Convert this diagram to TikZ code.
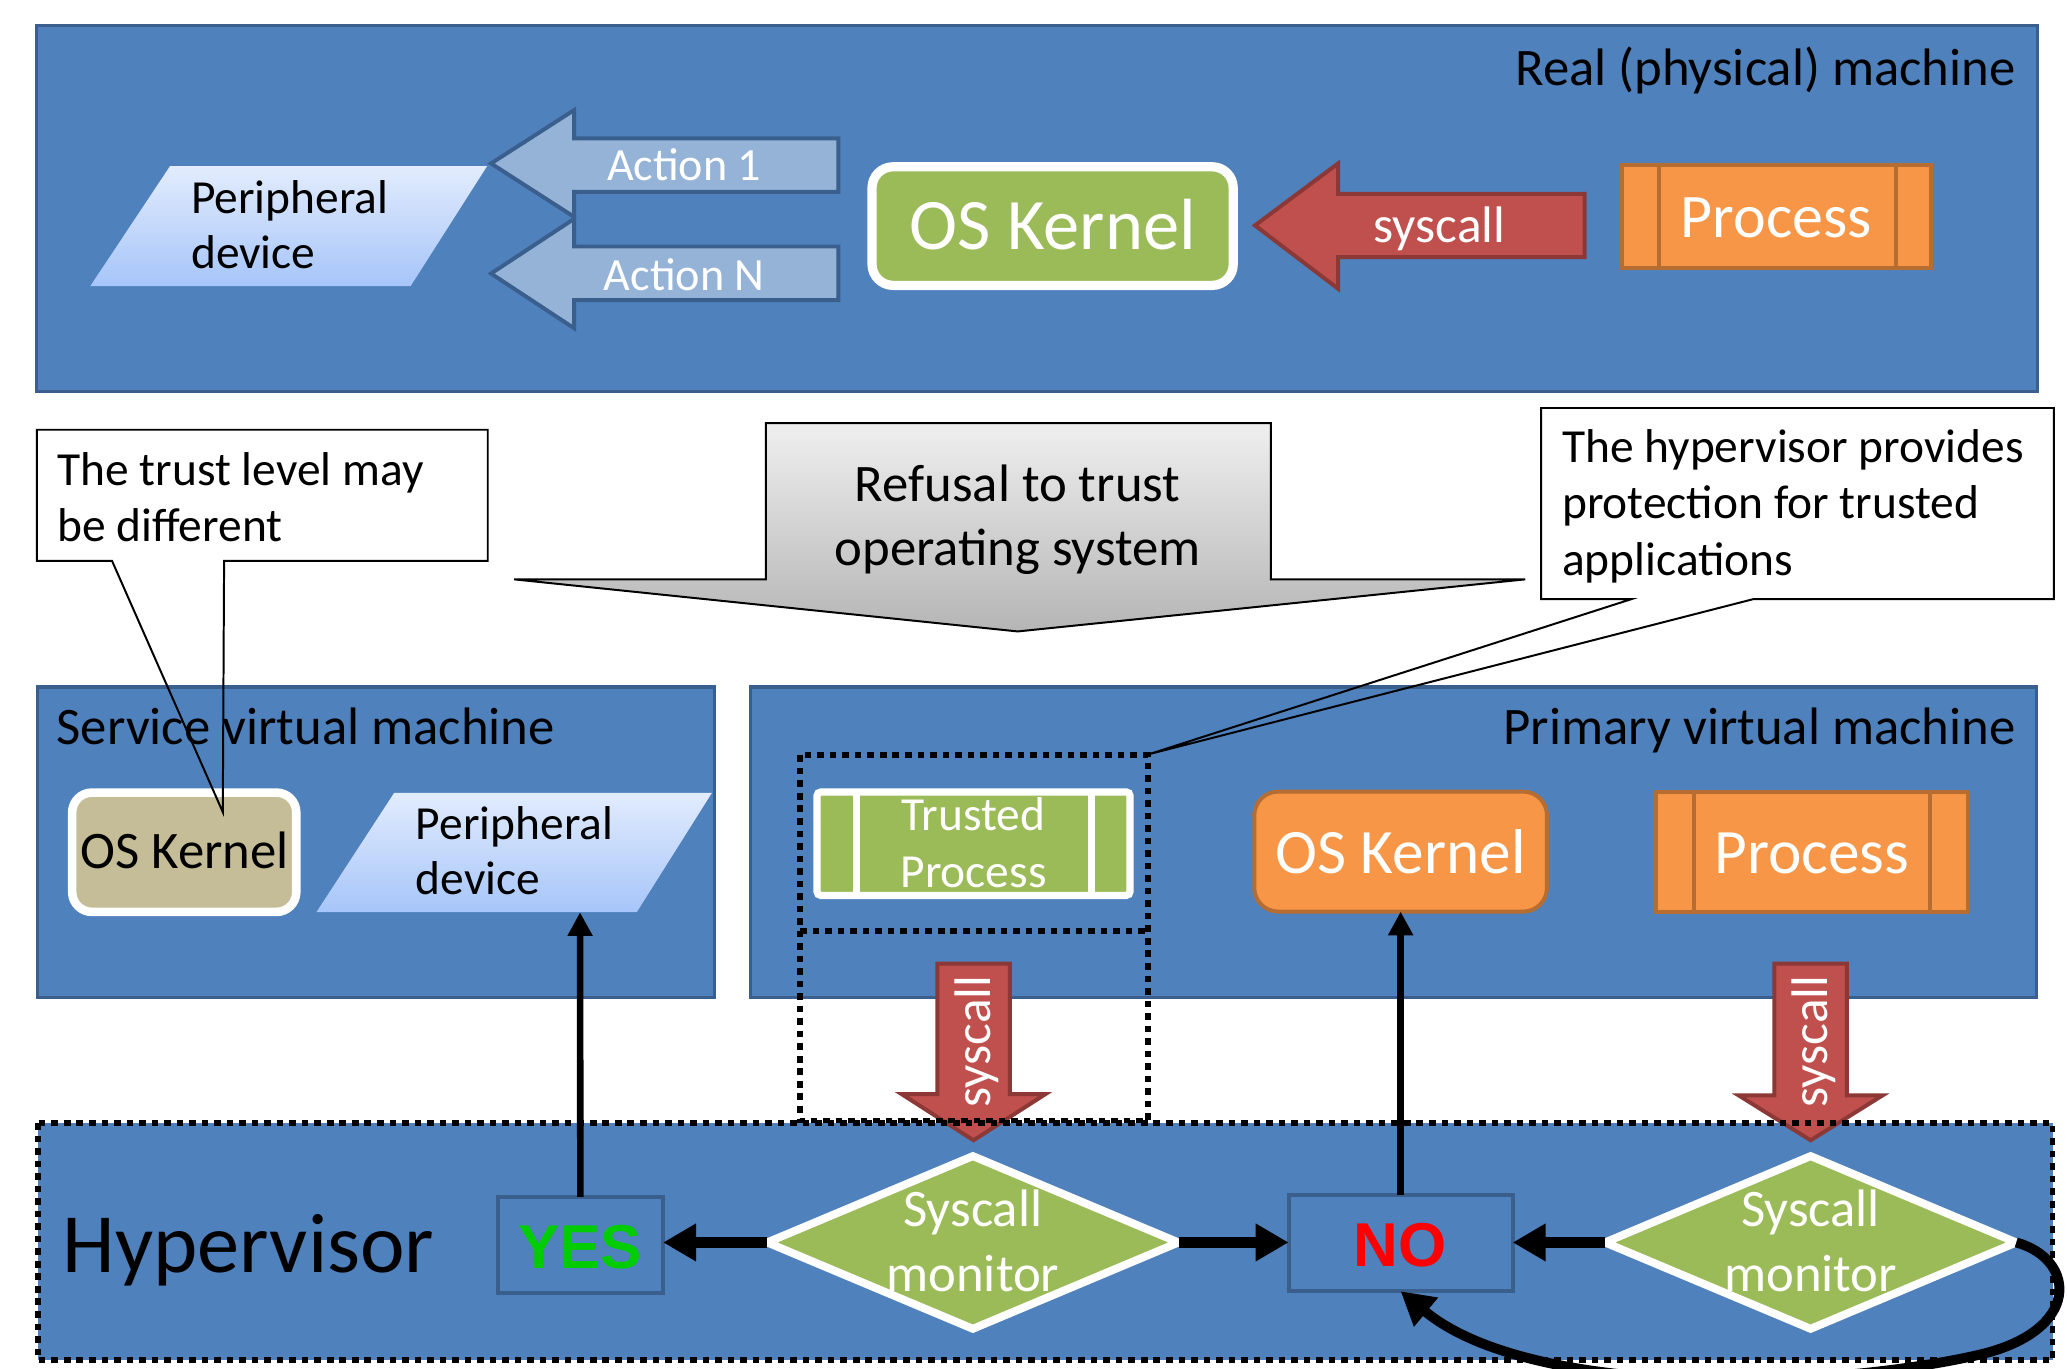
\documentclass[tikz,border=0pt]{standalone}
\usepackage{fontspec}
\setmainfont{Carlito}
\newfontfamily\lsans{Liberation Sans}
\usetikzlibrary{shapes.geometric,arrows.meta}
\definecolor{vmblue}{HTML}{4F81BD}
\definecolor{vmborder}{HTML}{3A5F8C}
\definecolor{actfill}{HTML}{95B3D7}
\definecolor{kgreen}{HTML}{9BBB59}
\definecolor{sred}{HTML}{C0504D}
\definecolor{sredb}{HTML}{8C3836}
\definecolor{porange}{HTML}{F79646}
\definecolor{porangeb}{HTML}{B66D31}
\definecolor{khaki}{HTML}{C4BD97}
\definecolor{pertop}{HTML}{E2ECFD}
\definecolor{perbot}{HTML}{A6C5F9}
\definecolor{refl}{HTML}{EFEFEF}
\definecolor{refd}{HTML}{B5B5B5}
\definecolor{yesgreen}{HTML}{00CC00}
\definecolor{nored}{HTML}{FF0000}
\newcommand{\myfs}[2]{\fontsize{#1pt}{#2pt}\selectfont}
\tikzset{
  vmbox/.style={rectangle, fill=vmblue, draw=vmborder, line width=2.5pt},
  procbox/.style={rectangle, fill=porange, draw=porangeb, line width=3pt},
  decbox/.style={rectangle, fill=vmblue, draw=vmborder, line width=3pt},
  actarrow/.style={fill=actfill, draw=vmborder, line width=3pt},
  redarrow/.style={fill=sred, draw=sredb, line width=3pt},
  calloutline/.style={draw=black, line width=1.5pt},
  dotborder/.style={draw=black, line width=4.5pt, dash pattern=on 5pt off 4.5pt},
  mondiamond/.style={diamond, fill=kgreen, draw=white, line width=6pt, minimum width=312pt, minimum height=131pt},
  thickarr/.style={draw=black, line width=8pt, -{Triangle[length=25pt,width=27pt]}},
  thinarr/.style={draw=black, line width=5pt, -{Triangle[length=18pt,width=18pt]}},
  wtext/.style={text=white},
}
\begin{document}
\begin{tikzpicture}[x=1pt, y=-1pt, every node/.style={inner sep=0pt, outer sep=0pt}]
\useasboundingbox (0,0) rectangle (1568,1038);
\fill[white] (0,0) rectangle (1568,1038);

% ---------- big boxes ----------
\node[vmbox, minimum width=1518pt, minimum height=277.5pt] (real) at (786.75,158) {};
\node[vmbox, minimum width=513.5pt, minimum height=235.5pt] (svm) at (285,639) {};
\node[vmbox, minimum width=975.5pt, minimum height=235.5pt] (pvm) at (1057,639) {};
\node[rectangle, fill=vmblue, minimum width=1528pt, minimum height=180pt] (hyp) at (793,942) {};

% ---------- real machine ----------
\node[anchor=base east, font=\myfs{40}{48}] (realt) at (1529,64.5) {Real (physical) machine};

\shade[top color=pertop, bottom color=perbot] (129,126) -- (369.5,126) -- (311.5,217) -- (68.5,217) -- cycle;
\node[anchor=north west, align=left, font=\myfs{36}{42}] (per1) at (145,137) {Peripheral\\device};

\draw[actarrow] (636,105) -- (435.5,105) -- (435.5,83.5) -- (372.5,124) -- (435.5,164.5) -- (435.5,145.5) -- (636,145.5) -- cycle;
\draw[actarrow] (636,187) -- (435.5,187) -- (435.5,166) -- (372.5,207.5) -- (435.5,249) -- (435.5,227.6) -- (636,227.6) -- cycle;
\node[anchor=base, wtext, font=\myfs{35}{42}] (act1) at (519,136.6) {Action 1};
\node[anchor=base, wtext, font=\myfs{35}{42}] (actn) at (519,220) {Action N};

\node[rectangle, rounded corners=16pt, fill=kgreen, draw=white, line width=7pt, minimum width=274pt, minimum height=90pt] (kern1) at (798.5,171.5) {};
\node[anchor=base, wtext, font=\myfs{55}{66}] (kern1t) at (798.5,189) {OS Kernel};

\draw[redarrow] (1202,147) -- (1015,147) -- (1015,124) -- (952,171) -- (1015,219) -- (1015,195) -- (1202,195) -- cycle;
\node[anchor=base, wtext, font=\myfs{39}{47}] (sys1) at (1092,184) {syscall};

\node[procbox, minimum width=234pt, minimum height=78pt] (proc1) at (1347.5,164.5) {};
\draw[porangeb, line width=3pt] (1258.5,125.5) -- (1258.5,203.5) (1438,125.5) -- (1438,203.5);
\node[anchor=base, wtext, font=\myfs{47}{56}] (proc1t) at (1347.5,180) {Process};

% ---------- service VM ----------
\node[anchor=base west, font=\myfs{40}{48}] (svmt) at (43,565) {Service virtual machine};
\node[rectangle, rounded corners=15pt, fill=khaki, draw=white, line width=6.5pt, minimum width=170pt, minimum height=90.5pt] (kern2) at (139.75,646.5) {};
\node[anchor=base, font=\myfs{40}{48}] (kern2t) at (140,659) {OS Kernel};
\shade[top color=pertop, bottom color=perbot] (299,601.5) -- (540,601.5) -- (483,692) -- (240,692) -- cycle;
\node[anchor=north west, align=left, font=\myfs{36}{42}] (per2) at (315.5,611.5) {Peripheral\\device};
\coordinate (per2b) at (440,692);

% ---------- primary VM ----------
\node[anchor=base east, font=\myfs{40}{48}] (pvmt) at (1529,565) {Primary virtual machine};
\node[rectangle, rounded corners=3pt, fill=kgreen, draw=white, line width=5.5pt, minimum width=237.5pt, minimum height=78.5pt] (trust) at (738.5,640) {};
\draw[white, line width=5.5pt] (650,601) -- (650,679) (828,601) -- (828,679);
\node[anchor=north, align=center, wtext, font=\myfs{36}{43}] (trustt) at (738.5,605) {Trusted\\Process};

\node[rectangle, rounded corners=18pt, fill=porange, draw=porangeb, line width=3pt, minimum width=222pt, minimum height=91pt] (kern3) at (1062.5,646) {};
\node[anchor=base, wtext, font=\myfs{48}{58}] (kern3t) at (1062.5,662.5) {OS Kernel};

\node[procbox, minimum width=236pt, minimum height=91pt] (proc2) at (1374.5,646) {};
\draw[porangeb, line width=3pt] (1285,601.5) -- (1285,690.5) (1464,601.5) -- (1464,690.5);
\node[anchor=base, wtext, font=\myfs{48}{58}] (proc2t) at (1374.5,662.5) {Process};

% ---------- vertical syscall arrows ----------
\draw[redarrow] (711,731) -- (766,731) -- (766,830) -- (793,830) -- (738.5,865) -- (684,830) -- (711,830) -- cycle;
\node[rotate=90, wtext, font=\myfs{39}{47}] (sys2) at (741,790) {syscall};
\draw[redarrow] (1346,731) -- (1401,731) -- (1401,831) -- (1428,831) -- (1373.5,865) -- (1319,831) -- (1346,831) -- cycle;
\node[rotate=90, wtext, font=\myfs{39}{47}] (sys3) at (1376,790) {syscall};

% ---------- dotted borders ----------
\draw[dotborder] (hyp.north west) rectangle (hyp.south east);
\draw[dotborder] (607,573) rectangle (871,850);
\draw[dotborder] (607,706) -- (871,706);

% ---------- hypervisor ----------
\node[anchor=base west, font=\myfs{64}{77}] (hypt) at (47.5,965) {Hypervisor};
\node[decbox, minimum width=125.5pt, minimum height=73pt] (yes) at (440.25,944.5) {};
\node[anchor=base, text=yesgreen, font=\lsans\bfseries\myfs{47}{56}] (yest) at (440,962) {YES};
\node[decbox, minimum width=170pt, minimum height=73pt] (no) at (1062.5,943) {};
\node[anchor=base, text=nored, font=\lsans\bfseries\myfs{47}{56}] (not) at (1062,960.5) {NO};

\node[mondiamond] (mon1) at (738,942.5) {};
\node[anchor=north, align=center, wtext, font=\myfs{40}{49}] (mon1t) at (738,903) {Syscall\\monitor};
\node[mondiamond] (mon2) at (1373.5,942.5) {};
\node[anchor=north, align=center, wtext, font=\myfs{40}{49}] (mon2t) at (1373.5,903) {Syscall\\monitor};

% ---------- connectors ----------
\draw[thickarr] (mon1.west) -- (mon1.west -| yes.east);
\draw[thickarr] (mon1.east) -- (mon1.east -| no.west);
\draw[thickarr] (mon2.west) -- (mon2.west -| no.east);
\draw[thinarr] (yes.north) -- (per2b);
\draw[thinarr] (no.north) -- (no.north |- kern3.south);
\draw[draw=black, line width=7.5pt, -{Triangle[length=25pt,width=27pt]}] (mon2.east) .. controls (1575,955) and (1580,1010) .. (1500,1028) .. controls (1380,1055) and (1160,1060) .. (no.south);

% ---------- callouts ----------
\fill[white] (28,326) rectangle (370,425.5);
\draw[calloutline] (85,425.5) -- (28,425.5) -- (28,326) -- (370,326) -- (370,425.5) -- (170,425.5) -- (169,616) -- cycle;
\node[anchor=north west, align=left, font=\myfs{36}{43}] (c1) at (43.5,343) {The trust level may\\be different};

\fill[white] (1169,309.5) rectangle (1558,454.5);
\draw[calloutline] (1237.5,454.5) -- (1169,454.5) -- (1169,309.5) -- (1558,309.5) -- (1558,454.5) -- (1330,454.5) -- (872,572) -- cycle;
\node[anchor=north west, align=left, font=\myfs{36}{43}] (c3) at (1185,325.5) {The hypervisor provides\\protection for trusted\\applications};

\path[top color=refl, bottom color=refd, draw=black, line width=1.5pt] (581,321) -- (964,321) -- (964,439.5) -- (1157,439.5) -- (772,479) -- (390,439.5) -- (581,439.5) -- cycle;
\node[anchor=north, align=center, font=\myfs{40}{49}] (ref) at (772,352.4) {Refusal to trust\\operating system};
\end{tikzpicture}
\end{document}
